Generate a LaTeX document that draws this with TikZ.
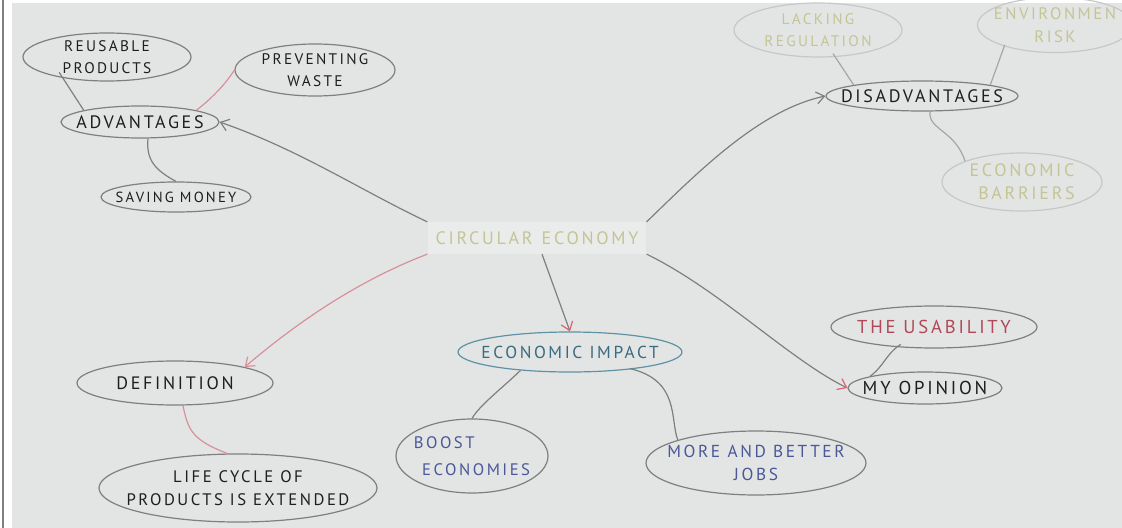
\documentclass[tikz,border=0pt]{standalone}
\usepackage{fontspec}
\setmainfont{PT Sans}
\newfontfamily\handfont[LetterSpace=15]{PT Sans}
\usetikzlibrary{shapes.geometric,arrows.meta}
\newdimen\pxu \pxu=0.75pt
\definecolor{paper}{HTML}{E3E5E5}
\definecolor{ink}{HTML}{1E1E1E}
\definecolor{pencil}{HTML}{7E8080}
\definecolor{pinkline}{HTML}{D8909A}
\definecolor{pale}{HTML}{C4C494}
\definecolor{paleline}{HTML}{C6C8C8}
\definecolor{blueink}{HTML}{4A5898}
\definecolor{tealink}{HTML}{3A6A80}
\definecolor{tealline}{HTML}{5E92A4}
\definecolor{redink}{HTML}{B04858}
\definecolor{redtip}{HTML}{E06070}
\newcommand\hs[1]{\handfont\fontsize{#1}{17}\selectfont}
\begin{document}
\begin{tikzpicture}[x=0.75pt,y=-0.75pt,
  bub/.style 2 args={ellipse, draw=pencil, line width=0.9pt, minimum width=#1\pxu, minimum height=#2\pxu, inner xsep=-16pt, inner ysep=-5pt, align=center},
  conn/.style={draw=pencil, line width=0.9pt},
  pconn/.style={draw=pinkline, line width=0.9pt},
  arr/.style={conn, -{Straight Barb[length=6pt,width=9pt]}},
  parr/.style={pconn, -{Straight Barb[length=6pt,width=9pt]}},
  rarr/.style={conn, -{Straight Barb[length=6pt,width=9pt,color=redtip]}},
]
\useasboundingbox (0,0) rectangle (1122,528);
\fill[white] (0,0) rectangle (1122,528);
\fill[paper] (12,3) rectangle (1122,528);
\draw[pencil, line width=1pt] (3,0) -- (3,528);

% centre
\node[fill=paper!75!white, text=pale, font=\hs{13.5}, inner xsep=6pt, inner ysep=7pt] (circ) at (537,238) {CIRCULAR\enspace ECONOMY};

% advantages branch
\node[bub={158}{32}, text=ink, font=\hs{13.5}] (adv) at (140,122) {ADVANTAGES};
\node[bub={168}{48}, text=ink, font=\hs{11.5}] (reuse) at (107,57) {REUSABLE\\PRODUCTS};
\node[bub={160}{52}, text=ink, font=\hs{11.5}] (prev) at (315,70) {PREVENTING\\WASTE};
\node[bub={150}{30}, text=ink, font=\hs{11}] (save) at (176,197) {SAVING MONEY};

% disadvantages branch
\node[bub={192}{30}, text=ink, font=\hs{13.5}] (dis) at (922,96) {DISADVANTAGES};
\node[bub={168}{54}, draw=paleline, text=pale, font=\hs{11.5}] (lack) at (818,30) {LACKING\\REGULATION};
\node[bub={155}{55}, draw=paleline, text=pale, font=\hs{12.5}] (env) at (1055,25) {ENVIRONMEN\\RISK};
\node[bub={160}{58}, draw=paleline, text=pale, font=\hs{13.5}] (barr) at (1022,182) {ECONOMIC\\\enspace BARRIERS};

% definition branch
\node[bub={196}{44}, text=ink, font=\hs{13.5}] (def) at (175,383) {DEFINITION};
\node[bub={278}{68}, text=ink, font=\hs{12.5}] (life) at (238,488) {LIFE CYCLE OF\\PRODUCTS IS EXTENDED};

% economic impact branch
\node[bub={224}{40}, draw=tealline, text=tealink, font=\hs{13}] (imp) at (570,352) {ECONOMIC IMPACT};
\node[bub={152}{74}, text=blueink, font=\hs{12.5}, align=left] (boost) at (472,456) {BOOST\\[3pt]\enspace ECONOMIES};
\node[bub={220}{64}, text=blueink, font=\hs{13}] (jobs) at (756,463) {MORE AND BETTER\\JOBS};

% opinion branch
\node[bub={206}{42}, text=redink, font=\hs{14}] (use) at (934,327) {THE USABILITY};
\node[bub={154}{32}, text=ink, font=\hs{14}] (op) at (925,388) {MY OPINION};

% arrows from centre
\draw[arr] (circ.north west) .. controls (360,190) and (300,150) .. (adv.east);
\draw[arr] (circ.north east) .. controls (700,170) and (760,110) .. (dis.west);
\draw[parr] (circ.south west) .. controls (360,280) and (300,320) .. (def.north east);
\draw[rarr] (circ.south) ++(5,0) coordinate (cs) (cs) -- (imp.north);
\draw[rarr] (circ.south east) .. controls (720,290) and (790,360) .. (op.west);

% sub connectors
\draw[conn] (reuse.south west) ++(12,-2) coordinate (r1) (r1) -- (adv.north west);
\draw[pconn] (adv.north east) .. controls (210,100) and (225,85) .. (prev.west);
\draw[conn] (adv.south) ++(8,0) coordinate (a1) (a1) .. controls (146,160) and (155,170) .. (save.north);
\draw[conn, draw=pencil!70] (lack.south) ++(15,-4) coordinate (l1) (l1) -- (dis.north west);
\draw[conn, draw=pencil!70] (env.south west) ++(5,0) coordinate (e1) (e1) -- (dis.north east);
\draw[conn, draw=pencil!70] (dis.south) ++(8,0) coordinate (d1) (d1) .. controls (928,130) and (955,130) .. (barr.north west);
\draw[pconn] (def.south) ++(8,0) coordinate (df1) (df1) .. controls (188,430) and (192,440) .. (life.107);
\draw[conn] (imp.south west) ++(30,4) coordinate (i1) (i1) .. controls (500,390) and (480,405) .. (boost.north);
\draw[conn] (imp.south east) ++(-20,2) coordinate (i2) (i2) .. controls (680,380) and (670,420) .. (jobs.north west);
\draw[conn] (use.south west) ++(40,2) coordinate (u1) (u1) .. controls (885,355) and (885,365) .. (op.north west);
\end{tikzpicture}
\end{document}
